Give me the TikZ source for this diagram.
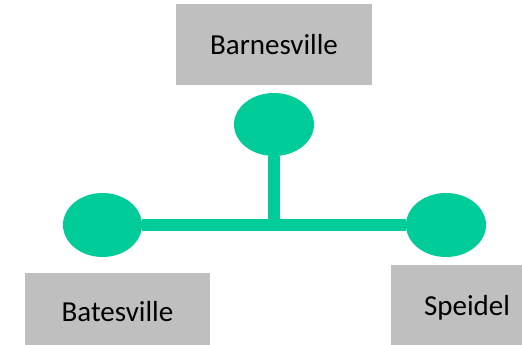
\documentclass[tikz,border=0pt]{standalone}
\usepackage{fontspec}
\setmainfont{Carlito}
\usetikzlibrary{shapes.geometric, positioning}
\definecolor{TownGray}{RGB}{191, 191, 191}
\definecolor{StopGreen}{RGB}{0, 204, 153}

\begin{document}
\begin{tikzpicture}[x=1pt,y=1pt,
    townbox/.style={fill=TownGray, inner sep=0pt, font=\fontsize{29}{33}\selectfont},
    stopdot/.style={ellipse, fill=StopGreen, inner sep=0pt},
    railline/.style={StopGreen, line width=12.5pt}]
  \path[use as bounding box] (0,0) rectangle (522,345);
  \clip (0,0) rectangle (522,345);

  \node[townbox, minimum width=196pt, minimum height=81pt] (barnesville) at (274,300.5) {Barnesville};
  \node[townbox, minimum width=185pt, minimum height=78pt] (batesville) at (117.5,33) {Batesville};
  \node[townbox, minimum width=152pt, minimum height=86pt] (speidel) at (467,37) {Speidel};

  \node[stopdot, minimum width=80pt, minimum height=63pt] (stopB) at (274,220.5) {};
  \node[stopdot, minimum width=79pt, minimum height=64pt] (stopL) at (102.5,120) {};
  \node[stopdot, minimum width=80pt, minimum height=64pt] (stopR) at (446,120) {};

  \coordinate (junction) at (stopB.south |- stopL.center);
  \draw[railline] (stopL.east) -- (stopR.west);
  \draw[railline] (stopB.south) -- (junction);
\end{tikzpicture}
\end{document}
